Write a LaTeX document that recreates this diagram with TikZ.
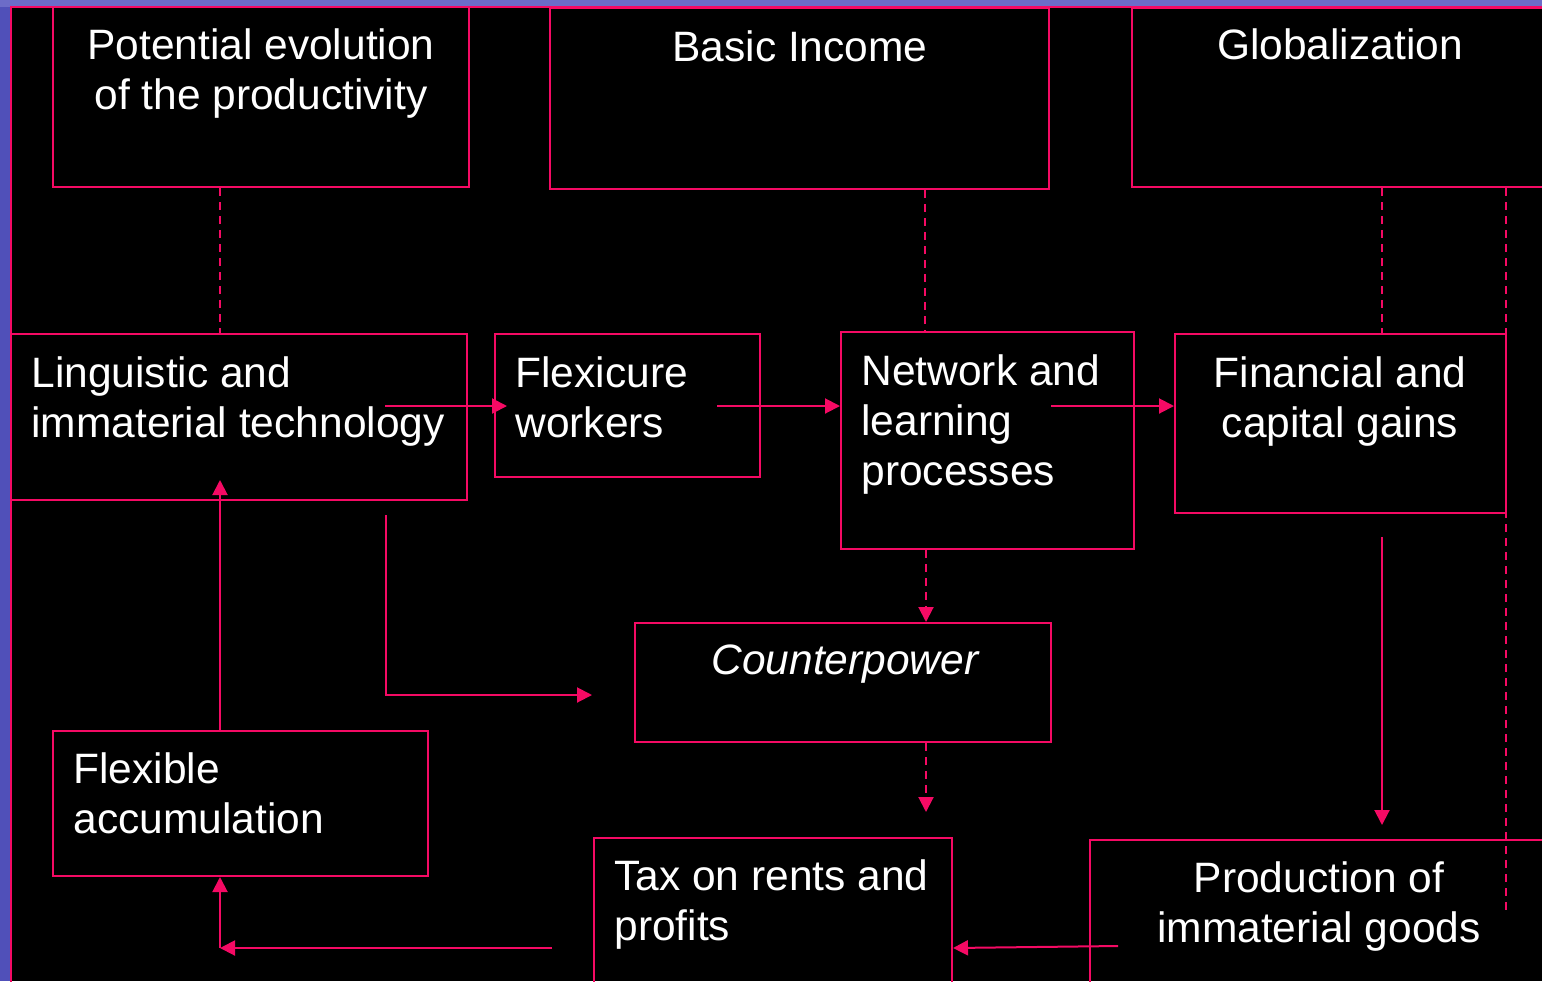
\documentclass[tikz,border=0pt]{standalone}
\usepackage{fontspec}
\setmainfont{Liberation Sans}
\usetikzlibrary{arrows.meta,calc,fit}
\definecolor{pinkline}{RGB}{245,10,100}
\definecolor{bgtop}{RGB}{108,108,200}
\definecolor{bgleft}{RGB}{80,80,185}
\begin{document}
\begin{tikzpicture}[x=0.5pt,y=-0.5pt,
  box/.style={draw=pinkline,line width=1pt,inner sep=0pt},
  txt/.style={text=white,font=\fontsize{21.25}{25}\selectfont,inner sep=0pt},
  conn/.style={draw=pinkline,line width=1pt},
  arr/.style={conn,-{Triangle[length=7.5pt,width=7.5pt]}},
  dsh/.style={conn,dash pattern=on 4pt off 3pt}]
\clip (0,0) rectangle (1542,981);
\fill[bgtop] (0,0) rectangle (1542,981);
\fill[bgleft] (0,7) rectangle (11,981);
\fill[black] (11,7) rectangle (1542,981);
\draw[conn] (11,990) -- (11,7) -- (1550,7);
% boxes
\node[box,fit={(53,7) (469,187)}] (pot) {};
\node[box,fit={(550,8) (1049,189)}] (basic) {};
\node[box,fit={(1132,8) (1550,187)}] (glob) {};
\node[box,fit={(11,334) (467,500)}] (ling) {};
\node[box,fit={(495,334) (760,477)}] (flex) {};
\node[box,fit={(841,332) (1134,549)}] (net) {};
\node[box,fit={(1175,334) (1506,513)}] (fin) {};
\node[box,fit={(635,623) (1051,742)}] (ctr) {};
\node[box,fit={(53,731) (428,876)}] (acc) {};
\node[box,fit={(594,838) (952,995)}] (tax) {};
\node[box,fit={(1090,840) (1555,995)}] (prod) {};
% texts (base anchor = baseline of the last line)
\node[txt,align=center,anchor=base] (tpot) at (261,109) {Potential evolution\\of the productivity};
\node[txt,anchor=base] (tbasic) at (800,61) {Basic Income};
\node[txt,anchor=base] (tglob) at (1340,59) {Globalization};
\node[txt,align=left,anchor=base west] (tling) at (31,437) {Linguistic and\\immaterial technology};
\node[txt,align=left,anchor=base west] (tflex) at (515,437) {Flexicure\\workers};
\node[txt,align=left,anchor=base west] (tnet) at (861,485) {Network and\\learning\\processes};
\node[txt,align=center,anchor=base] (tfin) at (1340,437) {Financial and\\capital gains};
\node[txt,anchor=base,font=\fontsize{21.25}{25}\selectfont\itshape] (tctr) at (845,674) {Counterpower};
\node[txt,align=left,anchor=base west] (tacc) at (73,833) {Flexible\\accumulation};
\node[txt,align=left,anchor=base west] (ttax) at (614,940) {Tax on rents and\\profits};
\node[txt,align=center,anchor=base] (tprod) at (1319,942) {Production of\\immaterial goods};
% coordinates
\coordinate (xa) at (220,0);
\coordinate (xb) at (925,0);
\coordinate (xc) at (1382,0);
\coordinate (xd) at (1506,0);
\coordinate (xe) at (926,0);
\coordinate (dend) at (1506,910);
\coordinate (l1) at (385,406);
\coordinate (f1) at (717,406);
\coordinate (n1) at (1051,406);
\coordinate (c2) at (926,812);
\coordinate (l3) at (386,515);
\coordinate (c3) at (592,695);
\coordinate (l4) at (220,480);
\coordinate (fs) at (1382,537);
\coordinate (pe) at (1382,825);
\coordinate (p1) at (1118,946);
\coordinate (t2) at (953,948);
\coordinate (t3) at (552,948);
\coordinate (a1) at (220,948);
% connectors
\draw[dsh] (pot.south -| xa) -- (ling.north -| xa);
\draw[dsh] (basic.south -| xb) -- (net.north -| xb);
\draw[dsh] (glob.south -| xc) -- (fin.north -| xc);
\draw[dsh] (glob.south -| xd) -- (dend);
\draw[arr] (l1) -- ($(flex.west |- l1)+(13,0)$);
\draw[arr] (f1) -- (f1 -| net.west);
\draw[arr] (n1) -- (n1 -| fin.west);
\draw[dsh,-{Triangle[length=7.5pt,width=7.5pt]}] (net.south -| xe) -- (ctr.north -| xe);
\draw[dsh,-{Triangle[length=7.5pt,width=7.5pt]}] (ctr.south -| xe) -- (c2);
\draw[arr] (l3) |- (c3);
\draw[arr] (acc.north -| xa) -- (l4);
\draw[arr] (fs) -- (pe);
\draw[arr] (p1) -- (t2);
\draw[arr] (t3) -- (a1);
\draw[arr] (a1) -- (acc.south -| xa);
\end{tikzpicture}
\end{document}
